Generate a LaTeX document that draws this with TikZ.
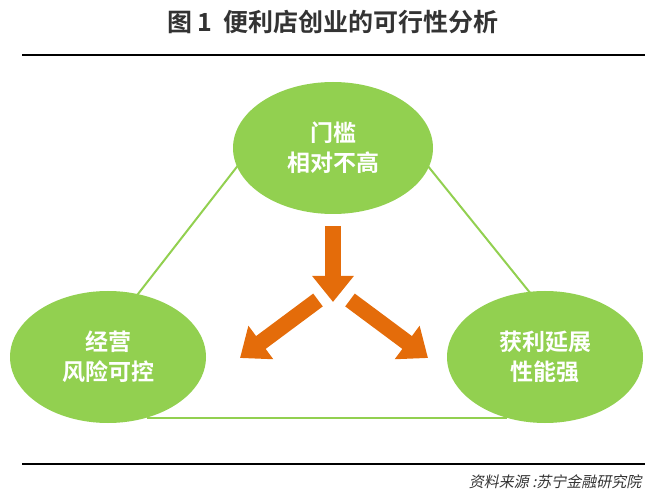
\documentclass[tikz,border=0pt]{standalone}
\usepackage{fontspec}
\newfontfamily\cjk{Noto Sans CJK SC}[BoldFont=* Bold]
\newfontfamily\cjkslant{Noto Sans CJK SC}[FakeSlant=0.2]
\usetikzlibrary{arrows.meta,shapes.geometric}
\definecolor{leafgreen}{HTML}{92D050}
\definecolor{carrot}{HTML}{E46C0A}
\begin{document}
\begin{tikzpicture}[x=1pt,y=-1pt]
  \tikzstyle{blob}=[ellipse,fill=leafgreen,minimum width=200pt,minimum height=132pt,inner sep=0pt,align=center,text=white,font=\cjk\bfseries\fontsize{23}{30}\selectfont]
  \tikzstyle{link}=[draw=leafgreen,line width=2pt]
  \tikzstyle{push}=[draw=carrot,line width=16pt,-{Triangle[width=40pt,length=26pt]}]
  \useasboundingbox (0,0) rectangle (667,494);

  \node[font=\cjk\bfseries\fontsize{25}{28}\selectfont,text=black!80] (title) at (333,22) {图 1\ \ 便利店创业的可行性分析};
  \draw[line width=2.5pt] (22,55) -- (645,55);
  \draw[line width=2.5pt] (22,464) -- (645,464);
  \node[font=\cjkslant\fontsize{15}{17}\selectfont,anchor=east,text=black!80] (src) at (645,482) {资料来源 :苏宁金融研究院};

  \coordinate (tl) at (250,150); \coordinate (ll) at (110,330);
  \coordinate (tr) at (415,150); \coordinate (rr) at (560,330);
  \coordinate (bl) at (147,418); \coordinate (br) at (507,418);
  \draw[link] (tl) -- (ll); \draw[link] (tr) -- (rr); \draw[link] (bl) -- (br);

  \node[blob] (gate) at (333,148) {门槛\\相对不高};
  \node[blob,minimum width=196pt] (risk) at (108,357) {经营\\风险可控};
  \node[blob,minimum width=196pt] (gain) at (545,357) {获利延展\\性能强};

  \coordinate (a0) at (333,226); \coordinate (a1) at (333,302);
  \coordinate (b0) at (318,300); \coordinate (b1) at (240,358);
  \coordinate (c0) at (350,300); \coordinate (c1) at (428,358);
  \draw[push] (a0) -- (a1);
  \draw[push] (b0) -- (b1);
  \draw[push] (c0) -- (c1);
\end{tikzpicture}
\end{document}
